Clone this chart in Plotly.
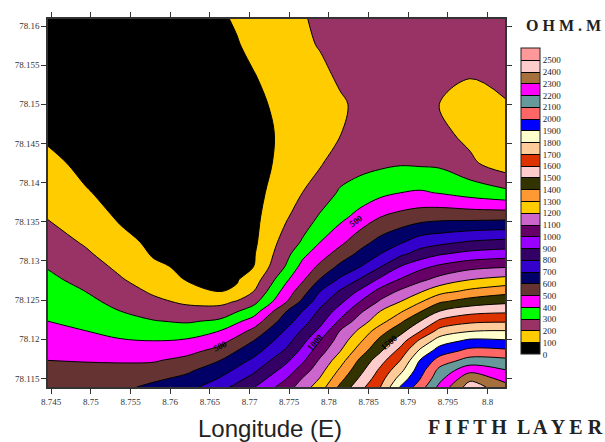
import plotly.graph_objects as go

longitude = [8.7446, 8.7493, 8.7537, 8.7579, 8.7621, 8.7663, 8.7684, 8.7705, 8.7747, 8.7767, 8.7789,
             8.7814, 8.7839, 8.7865, 8.7890, 8.7915, 8.7940, 8.7978, 8.8022]
latitude = [78.1609, 78.1576, 78.1538, 78.1500, 78.1463, 78.1425, 78.1387, 78.1356, 78.1324,
            78.1309, 78.1293, 78.1276, 78.1261, 78.1248, 78.1236, 78.1223, 78.1211, 78.1198,
            78.1185, 78.1173, 78.1160, 78.1150, 78.1139]

c01 = [10,20,40,60,83,122,162,195,243,267,294,319,342,362,381,400,425,450,475,500,525,545,565]
c02 = [5,10,20,35,55,78,107,148,190,214,243,273,300,325,350,375,400,431,462,494,530,558,590]
c03 = [5,8,15,25,40,55,72,88,127,152,179,209,243,271,300,336,371,408,450,492,524,548,575]
c04 = [5,5,8,15,25,38,52,66,82,92,114,151,186,221,262,305,352,400,445,491,540,580,625]
c05 = [5,5,5,8,15,25,38,52,68,76,85,95,142,183,233,289,350,412,471,528,583,623,664]
c06 = [90,70,55,40,35,35,45,55,68,76,85,92,98,171,243,317,400,467,533,600,659,706,765]
c06b = [108,95,78,62,52,50,58,65,74,80,86,93,113,208,292,382,457,529,600,659,719,769,827]
c07 = [130,118,97,80,65,65,70,75,80,90,99,148,200,267,350,442,523,600,659,719,781,833,893]
c08 = [174,163,140,126,121,127,155,192,247,274,312,388,450,500,600,659,715,765,819,881,947,1000,1055]
c08b = [195,186,161,146,144,158,201,252,311,374,433,488,556,623,700,756,812,871,928,983,1050,1105,1150]
c09 = [212,205,183,167,169,190,251,311,400,455,520,608,700,763,819,867,923,1000,1059,1115,1165,1205,1253]
c10 = [225,215,212,190,197,251,311,373,476,541,621,717,812,876,943,1017,1100,1148,1195,1256,1318,1365,1420]
c11 = [240,235,225,215,225,270,340,435,560,622,695,809,917,1000,1077,1150,1218,1282,1350,1416,1468,1512,1565]
c12 = [260,258,250,245,255,280,376,500,633,700,793,922,1038,1115,1200,1262,1355,1429,1488,1562,1623,1659,1700]
c13 = [280,280,272,265,275,290,400,533,687,777,900,1009,1117,1200,1283,1380,1462,1550,1633,1700,1771,1836,1908]
c14 = [265,270,265,260,270,285,411,556,750,840,970,1077,1190,1290,1390,1500,1590,1720,1820,1905,1957,1995,2050]
c15 = [255,250,235,198,225,280,395,569,773,890,1018,1136,1267,1388,1500,1622,1733,1850,1950,2044,2133,2172,2230]
c16 = [245,225,208,150,170,220,361,567,810,930,1067,1200,1325,1444,1563,1678,1789,1922,2030,2138,2271,2375,2450]
c17 = [240,225,212,197,150,140,327,570,830,950,1089,1233,1367,1478,1580,1689,1800,1911,2022,2125,2207,2264,2340]

columns = [c01, c02, c03, c04, c05, c06, c06b, c07, c08, c08b, c09, c10, c11, c12, c13, c14, c15, c16, c17]
resistivity = [list(r) for r in zip(*columns)]

band_colors = ["#000000", "#FFCC00", "#993366", "#00FF00", "#FF00FF", "#663333", "#000066",
               "#3300CC", "#330066", "#9900FF", "#660066", "#CC66CC", "#FFCC00", "#FF9933",
               "#333300", "#FFCCCC", "#DD3300", "#FFCC99", "#FFFFCC", "#0000FF", "#FF6666",
               "#669999", "#FF00FF", "#A5703C", "#FFCCCC", "#FF9999"]
legend_levels = list(range(0, 2600, 100))
x_ticks = [8.745, 8.75, 8.755, 8.76, 8.765, 8.77, 8.775, 8.78, 8.785, 8.79, 8.795, 8.8]
x_labels = ["8.745", "8.75", "8.755", "8.76", "8.765", "8.77", "8.775", "8.78", "8.785", "8.79", "8.795", "8.8"]
y_ticks = [78.115, 78.12, 78.125, 78.13, 78.135, 78.14, 78.145, 78.15, 78.155, 78.16]
y_labels = ["78.115", "78.12", "78.125", "78.13", "78.135", "78.14", "78.145", "78.15", "78.155", "78.16"]

n = len(band_colors)
scale = []
for i, c in enumerate(band_colors):
    scale += [[i / n, c], [(i + 1) / n, c]]

SERIF = "Liberation Serif"
fig = go.Figure(go.Contour(
    x=longitude, y=latitude, z=resistivity,
    zmin=0, zmax=2600, colorscale=scale,
    contours=dict(coloring="fill", start=100, end=2500, size=100),
    line=dict(color="black", width=1, smoothing=1),
    colorbar=dict(
        x=1.035, xanchor="left", xpad=0, y=0.92, yanchor="top", ypad=0,
        lenmode="pixels", len=306, thicknessmode="pixels", thickness=19,
        outlinecolor="#222", outlinewidth=1,
        tickmode="array", tickvals=legend_levels, ticktext=[str(v) for v in legend_levels],
        ticks="", tickfont=dict(family=SERIF, size=9, color="#222"),
    ),
))

axis = dict(showline=True, linecolor="#333", linewidth=1.5, mirror="allticks", ticks="outside",
            ticklen=5, tickcolor="#333", showgrid=False, zeroline=False,
            tickfont=dict(family=SERIF, size=9, color="#333"))
fig.update_xaxes(range=[8.7446, 8.8022], tickmode="array", tickvals=x_ticks, ticktext=x_labels, **axis)
fig.update_yaxes(range=[78.1139, 78.1609], tickmode="array", tickvals=y_ticks, ticktext=y_labels, **axis)

notes = [
    ("500", 8.7663, 78.1192, -25),
    ("500", 8.7834, 78.1351, -35),
    ("1000", 8.7783, 78.1196, -50),
    ("1500", 8.7877, 78.1196, -40),
]
annotations = [dict(text="<b>%s</b>" % t, x=x, y=y, textangle=a, showarrow=False, xanchor="center", yanchor="middle",
                    font=dict(family=SERIF, size=9, color="black"))
               for t, x, y, a in notes]
annotations += [
    dict(text="Longitude (E)", xref="paper", yref="paper", x=(270 - 48) / 457, y=(387 - 429) / 373,
         xanchor="center", yanchor="middle", showarrow=False,
         font=dict(family="Liberation Sans", size=24, color="#222")),
    dict(text="<b>F I F T H &nbsp;L A Y E R</b>", xref="paper", yref="paper", x=(515 - 48) / 457, y=(387 - 428) / 373,
         xanchor="center", yanchor="middle", showarrow=False,
         font=dict(family=SERIF, size=20, color="#222")),
    dict(text="<b>O H M . M</b>", xref="paper", yref="paper", x=(563 - 48) / 457, y=(387 - 21) / 373,
         xanchor="center", yanchor="middle", showarrow=False,
         font=dict(family=SERIF, size=16, color="#222")),
]
fig.update_layout(width=605, height=442, margin=dict(l=48, r=100, t=14, b=55),
                  paper_bgcolor="white", plot_bgcolor="white", showlegend=False,
                  annotations=annotations)
fig.write_html("out.html", config={"displayModeBar": False},
               post_script="document.body.style.margin='0';document.documentElement.style.overflow='hidden';")
